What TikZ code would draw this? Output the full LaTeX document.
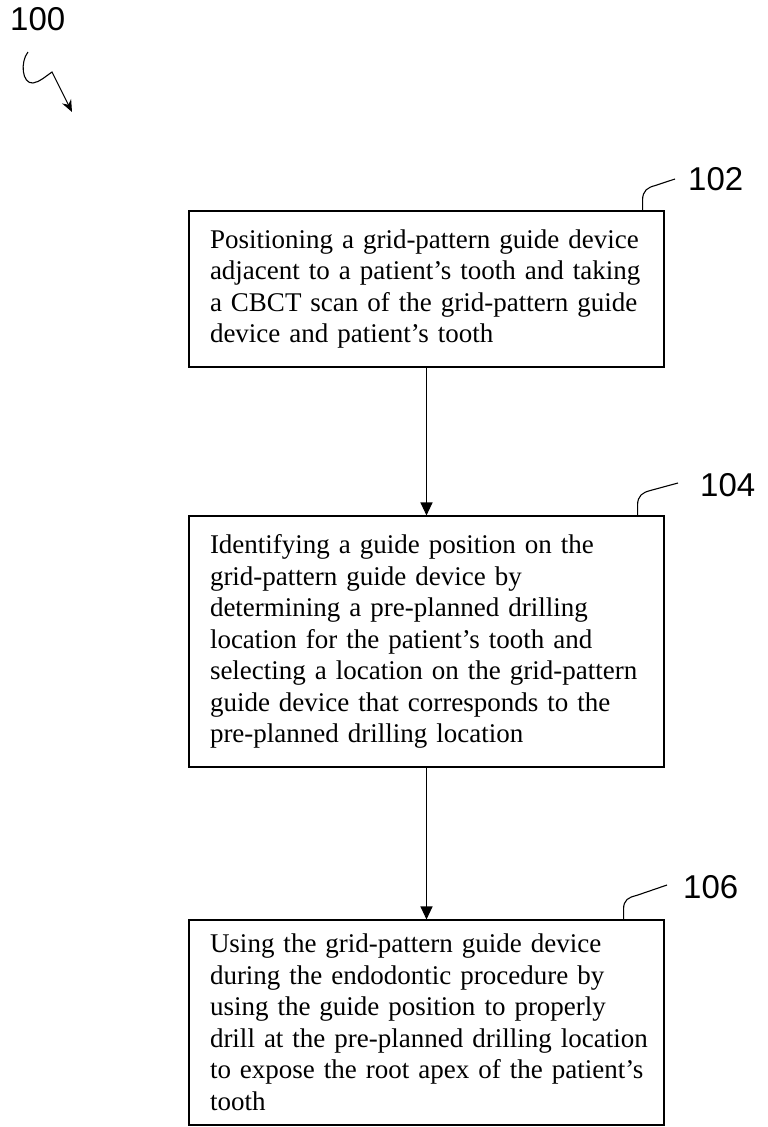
\documentclass[tikz,border=0pt]{standalone}
\usepackage{fontspec}
\setmainfont{Liberation Serif}
\newfontfamily\reffont{Liberation Sans}
\usetikzlibrary{arrows.meta}
\begin{document}
\begin{tikzpicture}[x=1pt,y=-1pt,
  stepbox/.style={draw, line width=1.1pt, minimum width=475pt, text width=433pt,
    inner xsep=21pt, inner ysep=0pt, align=left,
    font=\fontsize{27}{31.5}\selectfont},
  flow/.style={line width=1.1pt, -{Triangle[length=13pt,width=12pt]}},
  leader/.style={line width=1.1pt},
  reflabel/.style={font=\reffont\fontsize{33}{33}\selectfont, anchor=west, inner sep=0pt}]
\useasboundingbox (0,0) rectangle (768,1127);

\node[stepbox, minimum height=156pt] (b1) at (426.5,289)
 {\mbox{Positioning a grid-pattern guide device}\\
  \mbox{adjacent to a patient's tooth and taking}\\
  \mbox{a CBCT scan of the grid-pattern guide}\\
  \mbox{device and patient's tooth}};

\node[stepbox, minimum height=251pt] (b2) at (426.5,641.5)
 {\mbox{Identifying a guide position on the}\\
  \mbox{grid-pattern guide device by}\\
  \mbox{determining a pre-planned drilling}\\
  \mbox{location for the patient's tooth and}\\
  \mbox{selecting a location on the grid-pattern}\\
  \mbox{guide device that corresponds to the}\\
  \mbox{pre-planned drilling location}};

\node[stepbox, minimum height=205pt] (b3) at (426.5,1022.5)
 {\mbox{Using the grid-pattern guide device}\\
  \mbox{during the endodontic procedure by}\\
  \mbox{using the guide position to properly}\\
  \mbox{drill at the pre-planned drilling location}\\
  \mbox{to expose the root apex of the patient's}\\
  \mbox{tooth}};

\draw[flow] (b1.south) -- (b2.north);
\draw[flow] (b2.south) -- (b3.north);

\node[reflabel] (l100) at (10,19) {100};
\node[reflabel] (l102) at (688,179) {102};
\node[reflabel] (l104) at (700,485) {104};
\node[reflabel] (l106) at (683,887) {106};

\draw[leader] ([xshift=-22pt]b1.north east) -- ++(0,-10)
  .. controls ++(0,-10) and ++(-8,2) .. ++(13,-15) -- ([xshift=-13pt]l102.west);
\draw[leader] ([xshift=-27pt]b2.north east) -- ++(0,-10)
  .. controls ++(0,-10) and ++(-8,2) .. ++(13,-15) -- ([xshift=-22pt,yshift=2pt]l104.west);
\draw[leader] ([xshift=-41pt]b3.north east) -- ++(0,-10)
  .. controls ++(0,-10) and ++(-8,2) .. ++(13,-14) -- ([xshift=-16pt,yshift=2pt]l106.west);

\coordinate (h1) at (28,52);
\coordinate (h2) at (72,112);
\draw[leader, -{Stealth[length=12pt,width=10pt]}] (h1)
  .. controls (20,62) and (22,84) .. (33,83)
  .. controls (40,82) and (46,76) .. (52,72) -- (h2);
\end{tikzpicture}
\end{document}
